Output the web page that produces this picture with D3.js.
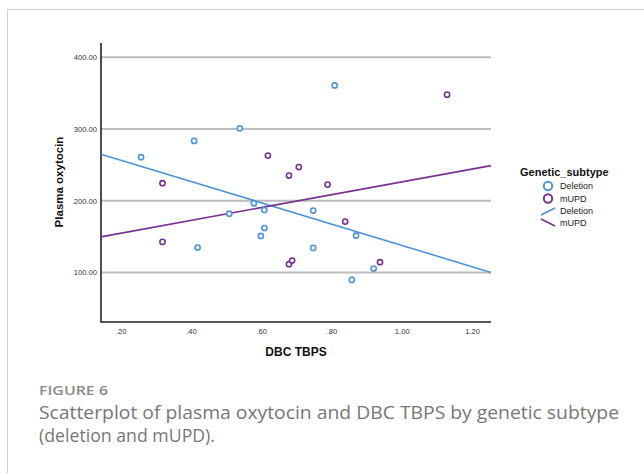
<!DOCTYPE html>
<html>
<head>
<meta charset="utf-8">
<script src="https://cdn.jsdelivr.net/npm/d3@7"></script>
<style>
  body { margin: 0; background: #fff; }
  svg { display: block; }
</style>
</head>
<body>
<script>
// data
var delX = [0.258, 0.409, 0.539, 0.579, 0.509, 0.609, 0.809, 0.609, 0.599, 0.419, 0.748, 0.870, 0.748, 0.920, 0.858];
var delY = [260.8, 283.5, 301.0, 196.6, 182.0, 187.0, 360.8, 162.0, 151.0, 134.8, 186.4, 151.6, 134.3, 105.5, 89.7];
var updX = [0.319, 0.619, 0.679, 0.707, 1.129, 0.789, 0.319, 0.679, 0.688, 0.839, 0.938];
var updY = [224.5, 263.0, 235.2, 247.0, 348.0, 222.6, 142.7, 111.6, 116.7, 171.0, 114.4];

// fit lines: intercept, slope
var delFit = [286.4, -148.6];
var updFit = [136.8, 89.5];

var xTicks = [0.2, 0.4, 0.6, 0.8, 1.0, 1.2];
var yTicks = [100, 200, 300, 400];
var groups = ["Deletion", "mUPD"];
var colors = ["#4d95d8", "#7a2f92"];

window.onload = draw();

function draw(){

    var width = 644,
        height = 473;

    var svg = d3.select("body")
        .append("svg")
        .attr("width", width)
        .attr("height", height);

    //frame border on left and top
    svg.append("path")
        .attr("d", "M7.5,473 L7.5,9.5 L644,9.5")
        .attr("fill", "none")
        .attr("stroke", "#cfcfcf")
        .attr("stroke-width", 1);

    var left = 101, right = 491, top = 43, bottom = 322;

    var x = d3.scaleLinear().domain([0.144, 1.254]).range([left, right]);
    var y = d3.scaleLinear().domain([31, 420]).range([bottom, top]);

    //gridlines
    svg.selectAll(".grid")
        .data(yTicks)
        .enter()
        .append("line")
        .attr("x1", left)
        .attr("x2", right)
        .attr("y1", function(d){ return y(d); })
        .attr("y2", function(d){ return y(d); })
        .attr("stroke", "#bdbdbd")
        .attr("stroke-width", 2);

    //y axis
    var yAxis = svg.append("g")
        .attr("transform", "translate(" + left + ",0)")
        .call(d3.axisLeft(y).tickValues(yTicks).tickSize(0).tickPadding(4)
            .tickFormat(function(d){ return d.toFixed(2); }));
    yAxis.select(".domain").remove();
    yAxis.selectAll("text")
        .attr("font-family", "Liberation Sans, Arial, sans-serif")
        .attr("font-size", 7.6)
        .attr("fill", "#333");

    //x axis
    var xAxis = svg.append("g")
        .attr("transform", "translate(0," + bottom + ")")
        .call(d3.axisBottom(x).tickValues(xTicks).tickSize(0).tickPadding(7)
            .tickFormat(function(d){ return d3.format(".2f")(d).replace(/^0/, ""); }));
    xAxis.select(".domain").remove();
    xAxis.selectAll("text")
        .attr("font-family", "Liberation Sans, Arial, sans-serif")
        .attr("font-size", 7.6)
        .attr("fill", "#333");

    //axis lines
    svg.append("path")
        .attr("d", "M" + left + "," + top + " L" + left + "," + bottom + " L" + right + "," + bottom)
        .attr("fill", "none")
        .attr("stroke", "#222")
        .attr("stroke-width", 1.6);

    //fit lines
    var fits = [delFit, updFit];
    var lineGen = d3.line()
        .x(function(d){ return x(d); });
    fits.forEach(function(f, i){
        var xs = x.domain();
        svg.append("path")
            .datum(xs)
            .attr("d", lineGen.y(function(d){ return y(f[0] + f[1] * d); }))
            .attr("fill", "none")
            .attr("stroke", colors[i])
            .attr("stroke-width", 1.6);
    });

    //points
    var sets = [[delX, delY], [updX, updY]];
    sets.forEach(function(s, i){
        svg.selectAll(".pt" + i)
            .data(s[0])
            .enter()
            .append("circle")
            .attr("class", "pt" + i)
            .attr("cx", function(d){ return x(d); })
            .attr("cy", function(d, j){ return y(s[1][j]); })
            .attr("r", 2.6)
            .attr("fill", "#fff")
            .attr("stroke", colors[i])
            .attr("stroke-width", 1.6);
    });

    //axis titles
    svg.append("text")
        .attr("x", 296)
        .attr("y", 356)
        .attr("text-anchor", "middle")
        .attr("font-family", "Liberation Sans, Arial, sans-serif")
        .attr("font-weight", "bold")
        .attr("font-size", 12)
        .attr("fill", "#111")
        .text("DBC TBPS");

    svg.append("text")
        .attr("transform", "translate(63,182) rotate(-90)")
        .attr("text-anchor", "middle")
        .attr("font-family", "Liberation Sans, Arial, sans-serif")
        .attr("font-weight", "bold")
        .attr("font-size", 11.5)
        .attr("fill", "#111")
        .text("Plasma oxytocin");

    //legend
    var lg = svg.append("g")
        .attr("font-family", "Liberation Sans, Arial, sans-serif");
    lg.append("text")
        .attr("x", 520)
        .attr("y", 176)
        .attr("font-weight", "bold")
        .attr("font-size", 11)
        .attr("fill", "#111")
        .text("Genetic_subtype");

    groups.forEach(function(g, i){
        var cy = 186 + i * 12.5;
        lg.append("circle")
            .attr("cx", 548)
            .attr("cy", cy)
            .attr("r", 4.2)
            .attr("fill", "#fff")
            .attr("stroke", colors[i])
            .attr("stroke-width", 2);
        lg.append("text")
            .attr("x", 560)
            .attr("y", cy + 3.2)
            .attr("font-size", 9)
            .attr("fill", "#222")
            .text(g);
    });

    groups.forEach(function(g, i){
        var cy = 211 + i * 12;
        var dy = i === 0 ? -1 : 1;
        lg.append("line")
            .attr("x1", 541)
            .attr("x2", 555)
            .attr("y1", cy - dy * 4)
            .attr("y2", cy + dy * 3)
            .attr("stroke", colors[i])
            .attr("stroke-width", 1.6);
        lg.append("text")
            .attr("x", 560)
            .attr("y", cy + 3.2)
            .attr("font-size", 9)
            .attr("fill", "#222")
            .text(g);
    });

    //caption
    svg.append("text")
        .attr("x", 39)
        .attr("y", 395)
        .attr("font-family", "Open Sans, sans-serif")
        .attr("font-weight", 600)
        .attr("font-size", 13)
        .attr("textLength", 69)
        .attr("lengthAdjust", "spacingAndGlyphs")
        .attr("fill", "#8a8a8a")
        .text("FIGURE 6");

    var capLines = ["Scatterplot of plasma oxytocin and DBC TBPS by genetic subtype",
                    "(deletion and mUPD)."];
    var capWidths = [580, 176];
    svg.selectAll(".cap")
        .data(capLines)
        .enter()
        .append("text")
        .attr("class", "cap")
        .attr("x", 39)
        .attr("y", function(d, i){ return 419 + i * 23; })
        .attr("font-family", "Open Sans, sans-serif")
        .attr("font-weight", 400)
        .attr("font-size", 17.5)
        .attr("textLength", function(d, i){ return capWidths[i]; })
        .attr("lengthAdjust", "spacingAndGlyphs")
        .attr("fill", "#777")
        .text(function(d){ return d; });
};
</script>
</body>
</html>
